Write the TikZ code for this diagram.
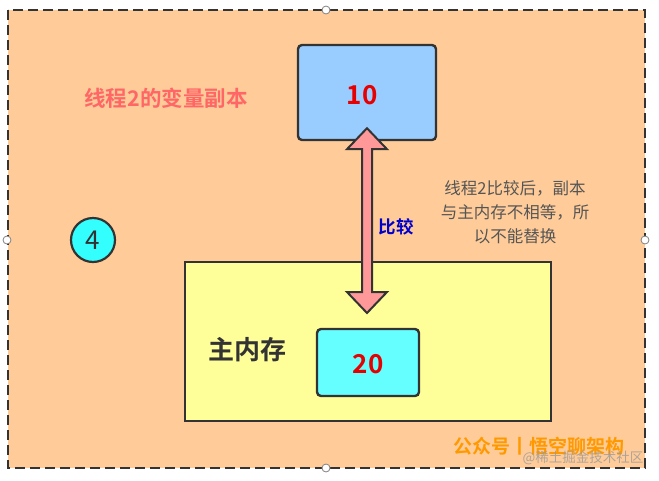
\documentclass[tikz,border=0pt]{standalone}
\usepackage{fontspec}
\setmainfont{Noto Sans CJK SC}[BoldFont={Noto Sans CJK SC Bold}]
\usepackage{tikz}
\usetikzlibrary{calc,positioning}
\definecolor{peach}{HTML}{FFCC99}
\definecolor{lineGray}{HTML}{333333}
\definecolor{copyBlue}{HTML}{99CCFF}
\definecolor{memYellow}{HTML}{FFFF99}
\definecolor{memCyan}{HTML}{66FFFF}
\definecolor{stepCyan}{HTML}{33FFFF}
\definecolor{valRed}{HTML}{E60000}
\definecolor{titleRed}{HTML}{FF6666}
\definecolor{cmpBlue}{HTML}{0000CC}
\definecolor{arrowPink}{HTML}{FF9999}
\definecolor{noteGray}{HTML}{555555}
\definecolor{brandOrange}{HTML}{FF9900}
\tikzset{
  box/.style={draw=lineGray,line width=2.4pt,rounded corners=4pt,inner sep=0pt},
  val/.style={text=valRed,font=\bfseries\fontsize{26}{30}\selectfont},
  handle/.style={draw=gray,fill=white,line width=0.8pt}
}

\begin{document}
\begin{tikzpicture}[x=1pt,y=-1pt]
\useasboundingbox (0,0) rectangle (659,480);
% frame
\draw[fill=peach,draw=lineGray,line width=2.8pt,dash pattern=on 10pt off 5pt] (8,10) rectangle (645,468);
\foreach \p in {(326,10),(7,240),(645,240),(326,468)}
  \draw[handle] \p circle (4);
% copy of thread 2
\node[box,fill=copyBlue,minimum width=138pt,minimum height=95pt] (copy) at (367,92.5) {};
\node[val] (copyval) at (362,95) {10};
\node[text=titleRed,font=\bfseries\fontsize{21.5}{25}\selectfont] (copytitle) at (166,98) {线程2的变量副本};
% main memory
\node[draw=lineGray,line width=2.4pt,fill=memYellow,minimum width=366pt,minimum height=159pt,inner sep=0pt] (mem) at (368,341.5) {};
\node[font=\bfseries\fontsize{26}{30}\selectfont,text=lineGray] (memtitle) at (247,350) {主内存};
\node[box,fill=memCyan,minimum width=102pt,minimum height=67pt] (main) at (368,362.5) {};
\node[val] (mainval) at (368,364) {20};
% compare arrow
\coordinate (up) at ($(copy.south)+(0,-13)$);
\coordinate (down) at (367,313);
\draw[fill=arrowPink,draw=lineGray,line width=2pt,line join=miter]
  (up) -- ($(up)+(20,21)$) -- ($(up)+(5,21)$) -- ($(down)+(5,-21)$) -- ($(down)+(20,-21)$)
  -- (down) -- ($(down)+(-20,-21)$) -- ($(down)+(-5,-21)$) -- ($(up)+(-5,21)$) -- ($(up)+(-20,21)$) -- cycle;
\node[text=cmpBlue,font=\bfseries\fontsize{17.5}{20}\selectfont] (cmp) at (396,227) {比较};
% note
\node[text=noteGray,font=\fontsize{16.5}{24}\selectfont,align=center] (note) at (515,212)
  {线程2比较后，副本\\与主内存不相等，所\\以不能替换};
% step
\node[circle,draw=lineGray,line width=2.2pt,fill=stepCyan,minimum size=44pt,inner sep=0pt,
  font=\fontsize{26}{30}\selectfont,text=lineGray] (step4) at (93,240) {4};
% footer
\node[text=brandOrange,font=\bfseries\fontsize{19}{22}\selectfont] (brand) at (539,446) {公众号丨悟空聊架构};
\node[text=gray!80,font=\fontsize{13.5}{16}\selectfont,opacity=0.8] (mark) at (583,458) {@稀土掘金技术社区};
\end{tikzpicture}
\end{document}
